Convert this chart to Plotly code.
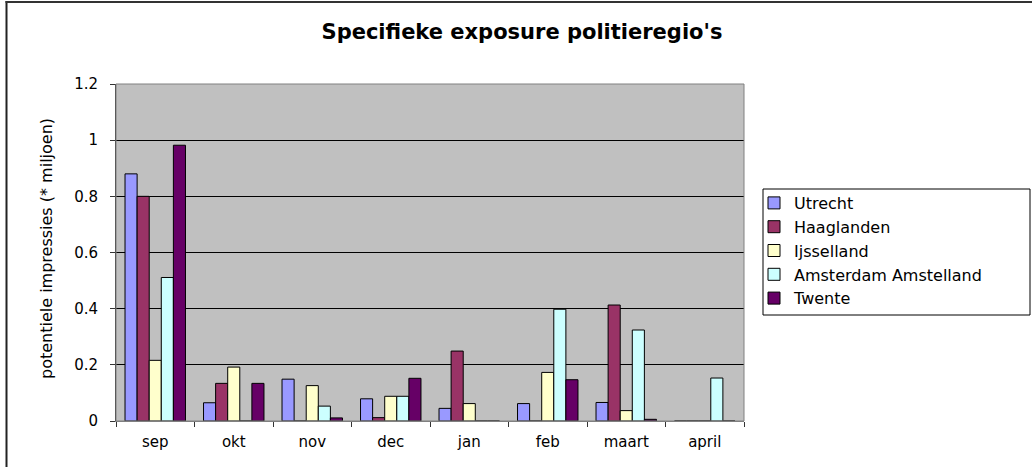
import plotly.graph_objects as go

months = ["sep", "okt", "nov", "dec", "jan", "feb", "maart", "april"]
utrecht = [0.88, 0.065, 0.149, 0.079, 0.045, 0.062, 0.066, 0]
haaglanden = [0.80, 0.134, 0, 0.012, 0.249, 0, 0.413, 0]
ijsselland = [0.216, 0.192, 0.126, 0.088, 0.062, 0.173, 0.037, 0]
amsterdam = [0.511, 0, 0.053, 0.088, 0, 0.398, 0.324, 0.153]
twente = [0.982, 0.134, 0.011, 0.152, 0, 0.147, 0.006, 0]

series = [
    ("Utrecht", utrecht, "#9999FF"),
    ("Haaglanden", haaglanden, "#993366"),
    ("Ijsselland", ijsselland, "#FFFFCC"),
    ("Amsterdam Amstelland", amsterdam, "#CCFFFF"),
    ("Twente", twente, "#660066"),
]

W, H = 1032, 467
L, R, T, B = 116, 744, 84, 421

def px_x(p):
    return (p - L) / (R - L)

def px_y(p):
    return (B - p) / (B - T)

fig = go.Figure()
for name, vals, col in series:
    fig.add_trace(go.Bar(x=months, y=vals, name=name,
                         marker=dict(color=col, line=dict(color="black", width=1))))

font = "DejaVu Sans, Arial, sans-serif"
fig.update_layout(
    width=W, height=H,
    margin=dict(l=L, r=W - R, t=T, b=H - B, pad=0),
    paper_bgcolor="white", plot_bgcolor="#C0C0C0",
    barmode="group", bargap=0.23, bargroupgap=0,
    title=dict(text="<b>Specifieke exposure politieregio's</b>",
               x=522 / W, xref="container", xanchor="center",
               y=1 - 32 / H, yref="container", yanchor="middle",
               font=dict(family=font, size=21, color="black")),
    font=dict(family=font, size=15, color="black"),
    legend=dict(x=px_x(754), y=px_y(186), xanchor="left", yanchor="top",
                font=dict(family=font, size=16, color="black"),
                bgcolor="rgba(0,0,0,0)", borderwidth=0, tracegroupgap=0),
    xaxis=dict(showgrid=False, ticks="outside", tickson="boundaries", ticklen=5,
               tickcolor="#333", showline=True, linecolor="#808080", linewidth=1,
               ticklabelstandoff=7, tickfont=dict(family=font, size=15)),
    yaxis=dict(range=[0, 1.2], dtick=0.2, showgrid=True, gridcolor="black", gridwidth=1,
               ticks="outside", ticklen=5, tickcolor="#333", showline=True,
               linecolor="#333", linewidth=1, zeroline=False,
               ticklabelstandoff=9, tickfont=dict(family=font, size=15)),
    annotations=[dict(text="potentiele impressies (* miljoen)", textangle=-90,
                      xref="paper", yref="paper", x=px_x(46), y=px_y(249),
                      xanchor="center", yanchor="middle", showarrow=False,
                      font=dict(family=font, size=16, color="black"))],
    shapes=[
        dict(type="rect", xref="paper", yref="paper", x0=0, x1=1, y0=0, y1=1,
             line=dict(color="#808080", width=1), layer="above"),
        dict(type="rect", xref="paper", yref="paper", x0=px_x(763), x1=px_x(1030),
             y0=px_y(189), y1=px_y(315), line=dict(color="black", width=1)),
        dict(type="line", xref="paper", yref="paper", x0=px_x(6.5), x1=px_x(6.5),
             y0=px_y(1), y1=px_y(467), line=dict(color="#222", width=2)),
        dict(type="line", xref="paper", yref="paper", x0=px_x(5.5), x1=px_x(1032),
             y0=px_y(2), y1=px_y(2), line=dict(color="#333", width=2)),
    ],
)

fig.write_html("out.html", config={"displayModeBar": False},
               post_script="document.body.style.margin='0';document.body.style.overflow='hidden';")
